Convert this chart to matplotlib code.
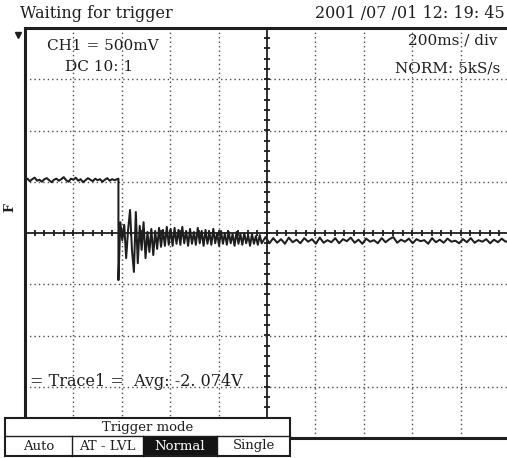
import numpy as np
import matplotlib
matplotlib.use("Agg")
import matplotlib.pyplot as plt
from matplotlib.patches import Rectangle

# ---- screen settings / labels ----
status_text = "Waiting for trigger"
timestamp = "2001 /07 /01 12: 19: 45"
ch_label = "CH1 = 500mV"
coupling = "DC 10: 1"
timebase = "200ms / div"
acq_mode = "NORM: 5kS/s"
trace_info = "= Trace1 =  Avg: -2. 074V"
trigger_title = "Trigger mode"
trigger_modes = ["Auto", "AT - LVL", "Normal", "Single"]
active_mode = "Normal"

# ---- trace (divisions) ----
# before trigger, sampled every 0.05 div
pre_dt = 0.05
pre_vals = [1.03, 1.06, 1.01, 1.05, 1.08, 1.02, 1.04, 1.00, 1.05, 1.07,
            1.03, 0.99, 1.04, 1.06, 1.02, 1.05, 1.09, 1.03, 1.00, 1.06,
            1.04, 1.08, 1.02, 1.05, 0.99, 1.03, 1.07, 1.04, 1.01, 1.06,
            1.03, 1.05, 1.00, 1.04, 1.07, 1.02, 1.05, 1.03, 1.06]
# ringing after the edge, sampled every 0.04 div from t=1.93
ring_t0 = 1.93
ring_dt = 0.04
ring_vals = [-0.92, 0.21, -0.14, 0.16, -0.49, 0.06, 0.45, -0.33, -0.76, 0.41,
             -0.59, 0.14, -0.33, 0.21, -0.49, 0.02, -0.37, 0.08, -0.43, 0.04,
             -0.31, 0.10, -0.27, 0.06, -0.25, 0.12, -0.23, 0.08, -0.25, 0.10,
             -0.21, 0.06, -0.23, 0.12, -0.20, 0.04, -0.25, 0.08, -0.21, 0.02,
             -0.23, 0.10, -0.20, 0.04, -0.25, 0.06, -0.21, 0.02, -0.23, 0.08,
             -0.20, 0.00, -0.25, 0.04, -0.21, 0.00, -0.23, 0.02, -0.20, -0.02,
             -0.25, 0.02, -0.21, -0.02, -0.23, 0.00, -0.20, -0.04, -0.25, -0.02,
             -0.21, -0.06, -0.23, -0.04, -0.20]
# settled part, sampled every 0.08 div from t=4.97
tail_t0 = 4.97
tail_dt = 0.08
tail_vals = [-0.08, -0.20, -0.10, -0.19, -0.12, -0.21, -0.09, -0.18, -0.13, -0.20,
             -0.10, -0.17, -0.12, -0.21, -0.09, -0.19, -0.14, -0.18, -0.10, -0.20,
             -0.12, -0.16, -0.09, -0.19, -0.13, -0.21, -0.11, -0.17, -0.14, -0.20,
             -0.10, -0.18, -0.12, -0.08, -0.19, -0.13, -0.17, -0.11, -0.20, -0.12,
             -0.16, -0.14, -0.21, -0.10, -0.18, -0.13, -0.19, -0.11, -0.17, -0.15,
             -0.20, -0.12, -0.18, -0.10, -0.19, -0.14, -0.17, -0.12, -0.20, -0.13,
             -0.18, -0.11, -0.17, -0.15]

pre_t = np.arange(len(pre_vals)) * pre_dt
pre_t[-1] = ring_t0
ring_t = ring_t0 + np.arange(len(ring_vals)) * ring_dt
tail_t = tail_t0 + np.arange(len(tail_vals)) * tail_dt
t = np.concatenate([pre_t, ring_t, tail_t])
v = np.concatenate([pre_vals, ring_vals, tail_vals])

W, H = 507, 458
fig = plt.figure(figsize=(W / 100, H / 100), dpi=100)
fig.patch.set_facecolor("white")
plt.rcParams["font.family"] = ["DejaVu Serif"]

ink = "#1e1e1e"
grid_c = "#4a4a4a"

# screen area in pixels: x 25..509, y 28..438
ax = fig.add_axes([25 / W, 1 - 438 / H, 484 / W, 410 / H])
ax.set_xlim(0, 10)
ax.set_ylim(-4, 4)
ax.set_xticks([])
ax.set_yticks([])
for s in ["left", "top", "bottom"]:
    ax.spines[s].set_linewidth(2.2)
    ax.spines[s].set_color(ink)
ax.spines["right"].set_visible(False)

# dotted graticule
for gx in range(1, 10):
    if gx != 5:
        ax.axvline(gx, color=grid_c, lw=1.0, ls=(0, (1, 2.2)))
for gy in range(-3, 4):
    if gy != 0:
        ax.axhline(gy, color=grid_c, lw=1.0, ls=(0, (1, 2.2)))

# centre axes with minor ticks
ax.axhline(0, color=ink, lw=1.3)
ax.axvline(5, color=ink, lw=1.3)
ticks_y = np.arange(-4, 4.01, 0.2)
ticks_x = np.arange(0, 10.01, 0.2)
ax.hlines(ticks_y, 4.93, 5.07, color=ink, lw=1.3)
ax.vlines(ticks_x, -0.06, 0.06, color=ink, lw=1.3)

# signal
ax.plot(t, v, color=ink, lw=1.45, zorder=5)

# overlay in pixel coordinates
ov = fig.add_axes([0, 0, 1, 1], facecolor="none")
ov.set_xlim(0, W)
ov.set_ylim(H, 0)
ov.axis("off")

ov.text(20, 14, status_text, fontsize=11.5, color=ink, va="center", ha="left")
ov.text(505, 14, timestamp, fontsize=11.5, color=ink, va="center", ha="right")
ov.text(47, 46, ch_label, fontsize=11, color=ink, va="center", ha="left")
ov.text(65, 67, coupling, fontsize=11, color=ink, va="center", ha="left")
ov.text(497, 40, timebase, fontsize=11, color=ink, va="center", ha="right")
ov.text(500, 68, acq_mode, fontsize=11, color=ink, va="center", ha="right")
ov.text(30, 381, trace_info, fontsize=11.5, color=ink, va="center", ha="left")

# small markers at the left
ov.plot([18], [35], marker="v", ms=5, color=ink)
ov.text(10, 208, "F", fontsize=9, rotation=90, color=ink, va="center", ha="center",
        fontweight="bold")

# trigger mode box
ov.add_patch(Rectangle((5, 418), 285, 38, facecolor="white", edgecolor=ink, lw=1.5, zorder=6))
ov.plot([5, 290], [436, 436], color=ink, lw=1.0, zorder=7)
ov.text(148, 427, trigger_title, fontsize=9.5, color=ink, va="center", ha="center", zorder=8)
cells = [5, 72, 143, 217, 290]
for i, mode in enumerate(trigger_modes):
    x0, x1 = cells[i], cells[i + 1]
    if i > 0:
        ov.plot([x0, x0], [436, 456], color=ink, lw=1.0, zorder=7)
    col = ink
    if mode == active_mode:
        ov.add_patch(Rectangle((x0, 437), x1 - x0, 18, facecolor="#141414",
                               edgecolor="none", zorder=7))
        col = "white"
    ov.text((x0 + x1) / 2, 446, mode, fontsize=9.5, color=col, va="center",
            ha="center", zorder=8)

fig.savefig("out.png", dpi=100)
